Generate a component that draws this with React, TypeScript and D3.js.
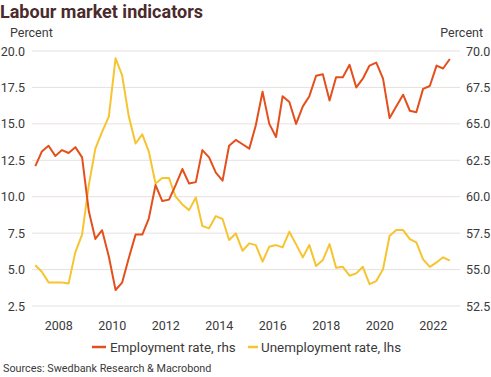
import React from "react";
import * as d3 from "d3";

const startYear = 2007;
const employment = [
  62.1, 63.1, 63.5, 62.8, 63.2, 63.0, 63.4, 62.7, 59.0, 57.1, 57.7, 55.9, 53.6, 54.1, 55.8, 57.4,
  57.4, 58.5, 60.8, 59.7, 59.8, 60.8, 61.9, 60.9, 61.0, 63.2, 62.7, 61.65, 61.1, 63.5, 63.9, 63.6,
  63.3, 64.9, 67.2, 65.0, 64.1, 66.9, 66.5, 65.0, 66.2, 66.9, 68.3, 68.4, 66.6, 68.2, 68.2, 69.05,
  67.5, 68.1, 69.0, 69.2, 68.1, 65.4, 66.2, 67.0, 65.9, 65.8, 67.4, 67.6, 69.0, 68.8, 69.45,
];
const unemployment = [
  5.3, 4.85, 4.12, 4.12, 4.12, 4.05, 6.2, 7.4, 10.8, 13.3, 14.45, 15.5, 19.5, 18.35, 15.5, 13.65,
  14.28, 13.1, 10.9, 11.28, 11.28, 10.0, 9.47, 9.08, 9.95, 7.99, 7.83, 8.67, 8.47, 7.03, 7.48, 6.29,
  6.8, 6.68, 5.54, 6.57, 6.68, 6.52, 7.6, 6.73, 5.84, 6.68, 5.24, 5.65, 6.75, 5.13, 5.19, 4.58,
  4.74, 5.19, 4.0, 4.21, 5.03, 7.32, 7.71, 7.71, 7.09, 6.87, 5.7, 5.19, 5.49, 5.84, 5.61,
];
const leftTicks = [2.5, 5.0, 7.5, 10.0, 12.5, 15.0, 17.5, 20.0];
const rightTicks = [52.5, 55.0, 57.5, 60.0, 62.5, 65.0, 67.5, 70.0];
const yearTicks = [2008, 2010, 2012, 2014, 2016, 2018, 2020, 2022];

const quarterDate = (i: number) => {
  const y = startYear + Math.floor(i / 4);
  const q = i % 4;
  return new Date(y, q * 3 + 1, 15);
};

export default function App() {
  const W = 491, H = 377;
  const x = d3.scaleTime().domain([new Date(2007, 0, 1), new Date(2023, 0, 1)]).range([32, 460]);
  const yL = d3.scaleLinear().domain([2.5, 20]).range([306, 51]);
  const yR = d3.scaleLinear().domain([52.5, 70]).range([306, 51]);
  const empLine = d3.line<number>().x((_, i) => x(quarterDate(i))).y((d) => yR(d));
  const unLine = d3.line<number>().x((_, i) => x(quarterDate(i))).y((d) => yL(d));
  const red = "#e4501c";
  const yellow = "#f6c431";
  const textCol = "#3a3a3a";
  const font = "Roboto, 'Open Sans', sans-serif";
  return (
    <svg width={W} height={H} style={{ position: "absolute", left: 0, top: 0, background: "#fff" }}>
      <text x={0} y={17.5} fontFamily="Roboto, 'Open Sans', sans-serif" fontWeight={700} fontSize={17.5}
        fill="#4b2a2c" textLength={203} lengthAdjust="spacingAndGlyphs">
        Labour market indicators
      </text>
      <text x={10} y={36.5} fontFamily={font} fontSize={12.5} fill={textCol}>Percent</text>
      <text x={483} y={36.5} fontFamily={font} fontSize={12.5} fill={textCol} textAnchor="end">Percent</text>
      {leftTicks.map((t) => (
        <g key={"g" + t}>
          <line x1={32} x2={460} y1={yL(t)} y2={yL(t)} stroke="#e9dfdf" strokeWidth={1} />
          <text x={25} y={yL(t) + 4.5} fontFamily={font} fontSize={12.5} fill={textCol} textAnchor="end">
            {t.toFixed(1)}
          </text>
        </g>
      ))}
      {rightTicks.map((t) => (
        <text key={"r" + t} x={466} y={yR(t) + 4.5} fontFamily={font} fontSize={12.5} fill={textCol}>
          {t.toFixed(1)}
        </text>
      ))}
      {yearTicks.map((yr) => (
        <text key={yr} x={x(new Date(yr, 0, 1))} y={329.5} fontFamily={font} fontSize={12.5} fill={textCol} textAnchor="middle">
          {yr}
        </text>
      ))}
      <path d={unLine(unemployment) || ""} fill="none" stroke={yellow} strokeWidth={2} strokeLinejoin="round" />
      <path d={empLine(employment) || ""} fill="none" stroke={red} strokeWidth={2} strokeLinejoin="round" />
      <line x1={92} x2={106} y1={347} y2={347} stroke={red} strokeWidth={2.5} />
      <text x={110} y={352} fontFamily={font} fontSize={13.4} fill={textCol}>Employment rate, rhs</text>
      <line x1={248} x2={258} y1={347} y2={347} stroke={yellow} strokeWidth={2.5} />
      <text x={261} y={352} fontFamily={font} fontSize={13.4} fill={textCol}>Unemployment rate, lhs</text>
      <text x={3} y={372} fontFamily={font} fontSize={10.8} fill={textCol}>Sources: Swedbank Research &amp; Macrobond</text>
    </svg>
  );
}
